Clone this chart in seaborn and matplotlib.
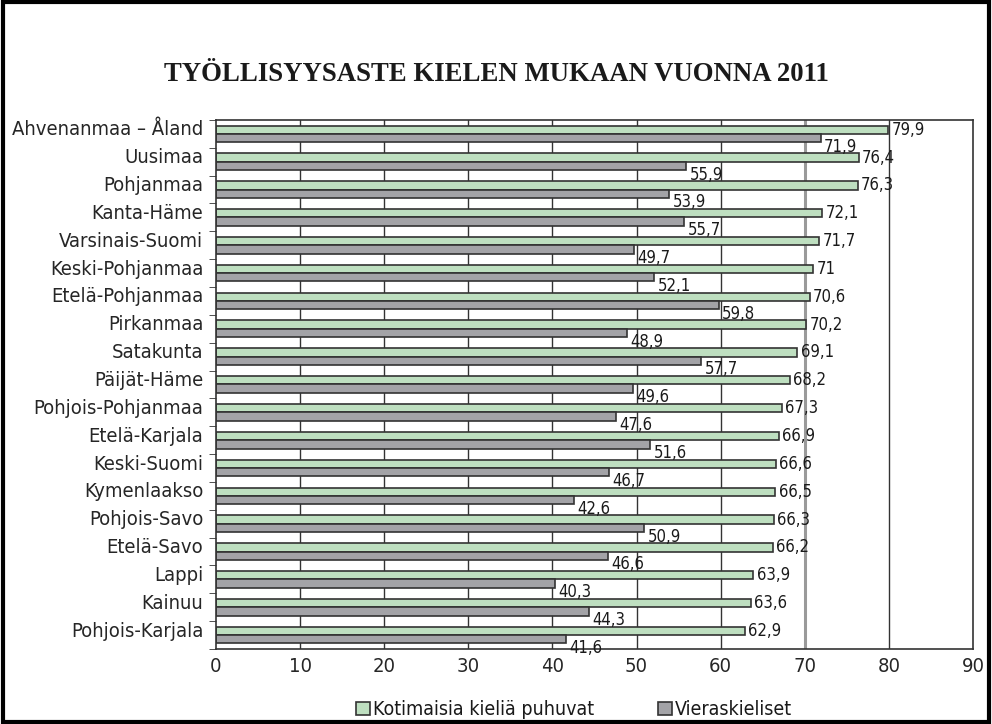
import matplotlib
matplotlib.use("Agg")
import matplotlib.pyplot as plt
import matplotlib.transforms as mtransforms
from matplotlib.patches import Rectangle
import pandas as pd
import seaborn as sns

regions = ["Ahvenanmaa – Åland", "Uusimaa", "Pohjanmaa", "Kanta-Häme", "Varsinais-Suomi",
           "Keski-Pohjanmaa", "Etelä-Pohjanmaa", "Pirkanmaa", "Satakunta", "Päijät-Häme",
           "Pohjois-Pohjanmaa", "Etelä-Karjala", "Keski-Suomi", "Kymenlaakso", "Pohjois-Savo",
           "Etelä-Savo", "Lappi", "Kainuu", "Pohjois-Karjala"]
kotimaiset = [79.9, 76.4, 76.3, 72.1, 71.7, 71.0, 70.6, 70.2, 69.1, 68.2,
              67.3, 66.9, 66.6, 66.5, 66.3, 66.2, 63.9, 63.6, 62.9]
vieraskieliset = [71.9, 55.9, 53.9, 55.7, 49.7, 52.1, 59.8, 48.9, 57.7, 49.6,
                  47.6, 51.6, 46.7, 42.6, 50.9, 46.6, 40.3, 44.3, 41.6]
series = ["Kotimaisia kieliä puhuvat", "Vieraskieliset"]
colors = ["#b9e4bb", "#a2a2a8"]

df = pd.DataFrame({
    "alue": regions * 2,
    "arvo": kotimaiset + vieraskieliset,
    "ryhma": [series[0]] * len(regions) + [series[1]] * len(regions),
})

sns.set_style("white")
plt.rcParams["font.family"] = ["DejaVu Sans"]
plt.rcParams["font.stretch"] = "condensed"
plt.rcParams["text.color"] = "#1a1a1a"

fig = plt.figure(figsize=(9.92, 7.24), dpi=100)
ax = fig.add_axes([0.2177, 0.1036, 0.7631, 0.7307])

sns.barplot(data=df, y="alue", x="arvo", hue="ryhma", palette=colors, orient="h",
            width=0.6, edgecolor="#333333", linewidth=1.2, ax=ax, legend=True)

ax.set_xlim(0, 90)
ax.set_ylim(len(regions) - 0.5, -0.5)
ax.set_xticks(range(0, 91, 10))
ax.set_xticklabels([str(v) for v in range(0, 91, 10)], fontsize=14.5)
ax.set_yticks(range(len(regions)))
ax.set_yticklabels(regions, fontsize=14.5)
ax.set_xlabel("")
ax.set_ylabel("")
ax.tick_params(axis="y", length=0, pad=9)
ax.tick_params(axis="x", length=0, pad=6)
ax.set_yticks([i + 0.5 for i in range(-1, len(regions))], minor=True)
ax.tick_params(axis="y", which="minor", length=5, color="#333333", left=True)
for lbl in ax.get_yticklabels():
    lbl.set_transform(lbl.get_transform() + mtransforms.ScaledTranslation(0, 0.06, fig.dpi_scale_trans))

for x in range(10, 90, 10):
    ax.axvline(x, color="#9a9a9a" if x == 70 else "#333333",
               lw=2.2 if x == 70 else 1.0, zorder=0)
for s in ax.spines.values():
    s.set_color("#333333")
    s.set_linewidth(1.2)

def fmt(v):
    return f"{v:.1f}".replace(".", ",").replace(",0", "")

for i, (k, v) in enumerate(zip(kotimaiset, vieraskieliset)):
    ax.text(k + 0.4, i - 0.15, fmt(k), va="center", ha="left", fontsize=12)
    ax.text(v + 0.4, i + 0.46, fmt(v), va="center", ha="left", fontsize=12)

leg = ax.legend(loc="center", bbox_to_anchor=(0.473, -0.115), ncol=2, frameon=False,
                fontsize=14, handlelength=0.7, handleheight=0.7, handletextpad=0.15,
                columnspacing=3.3)

fig.text(0.5, 0.897, "TYÖLLISYYSASTE KIELEN MUKAAN VUONNA 2011", ha="center", va="center",
         fontsize=19.3, fontweight="bold", family="Liberation Serif", fontstretch="normal")
fig.patches.append(Rectangle((0.003, 0.003), 0.994, 0.994, transform=fig.transFigure,
                             fill=False, edgecolor="black", lw=3))

fig.savefig("out.png", dpi=100)
